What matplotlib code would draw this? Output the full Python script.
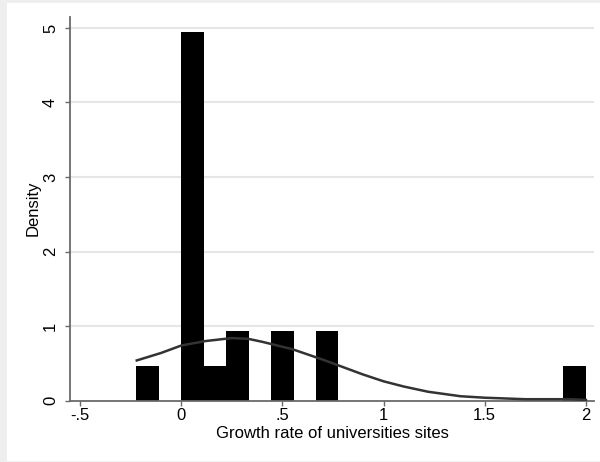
import matplotlib
matplotlib.use("Agg")
import matplotlib.pyplot as plt
from matplotlib.patches import Rectangle

# histogram bins (left edges) and densities
bin_start = -0.222
bin_width = 0.111
densities = [0.47, 0, 4.95, 0.47, 0.93, 0, 0.93, 0, 0.93, 0,
             0, 0, 0, 0, 0, 0, 0, 0, 0, 0.47]

# normal density overlay
curve_x = [-0.22, -0.10, 0.00, 0.12, 0.25, 0.33, 0.40, 0.55, 0.70, 0.79,
           0.90, 1.00, 1.10, 1.22, 1.38, 1.50, 1.70, 1.92, 2.00]
curve_y = [0.54, 0.64, 0.74, 0.80, 0.84, 0.83, 0.79, 0.69, 0.55, 0.46,
           0.35, 0.26, 0.19, 0.12, 0.06, 0.04, 0.02, 0.02, 0.01]

xticks = [-0.5, 0, 0.5, 1, 1.5, 2]
xtick_labels = ["-.5", "0", ".5", "1", "1.5", "2"]
yticks = [0, 1, 2, 3, 4, 5]

plt.rcParams['font.family'] = ['Liberation Sans', 'DejaVu Sans']

fig = plt.figure(figsize=(6, 4.62), dpi=100)
fig.patch.set_facecolor("#eeeeee")
bg = Rectangle((7 / 600, 1.5 / 462), 593 / 600, 458 / 462,
               transform=fig.transFigure, facecolor="white",
               edgecolor="none", zorder=-10)
fig.add_artist(bg)

ax = fig.add_axes([70 / 600, 61.3 / 462, 524 / 600, 384 / 462])
ax.set_facecolor("none")
ax.set_zorder(1)

lefts = [bin_start + i * bin_width for i in range(len(densities))]
ax.bar(lefts, densities, width=bin_width, align="edge", color="black",
       edgecolor="none", zorder=2)
ax.plot(curve_x, curve_y, color="#333333", lw=1.8, zorder=3)

ax.set_xlim(-0.55, 2.04)
ax.set_ylim(0, 5.15)
ax.set_xticks(xticks)
ax.set_xticklabels(xtick_labels)
ax.set_yticks(yticks)
ax.set_yticklabels([str(v) for v in yticks], rotation=90, va="center")

for v in yticks[1:]:
    ax.axhline(v, color="#e6e6e6", lw=1.5, zorder=1)

for s in ["top", "right"]:
    ax.spines[s].set_visible(False)
for s in ["left", "bottom"]:
    ax.spines[s].set_color("#6a6a6a")
    ax.spines[s].set_linewidth(1.3)

ax.tick_params(axis="both", colors="#6a6a6a", length=3.6, width=1,
               labelsize=12, labelcolor="black")
ax.tick_params(axis="x", pad=2)
ax.tick_params(axis="y", pad=5)

ax.set_xlabel("Growth rate of universities sites", fontsize=12, labelpad=2)
ax.set_ylabel("Density", fontsize=12)
ax.yaxis.set_label_coords(-0.057, 0.5)

fig.savefig("out.png", dpi=100, facecolor=fig.get_facecolor())
